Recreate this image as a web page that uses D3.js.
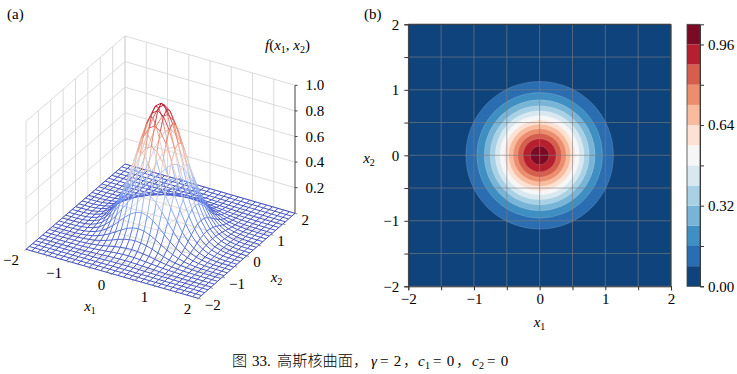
<!DOCTYPE html>
<html>
<head>
<meta charset="utf-8">
<script src="https://cdn.jsdelivr.net/npm/d3@7"></script>
<style>
  body { margin: 0; background: #fff; }
  text { font-family: "Liberation Serif", serif; font-size: 15px; fill: #000; }
  .cjk { font-family: "Noto Sans CJK SC", sans-serif; font-size: 15.2px; font-weight: 300; }
  .domain { stroke: #333; }
  .tick line { stroke: #333; }
</style>
</head>
<body>
<svg width="737" height="374"></svg>
<script>
// axis ticks
const xTicks = [-2, -1.5, -1, -0.5, 0, 0.5, 1, 1.5, 2];
const xLabels = [-2, -1, 0, 1, 2];
const zTicks = [0.2, 0.4, 0.6, 0.8, 1.0];
const wallZ = [0, 0.2, 0.4, 0.6, 0.8, 1.0];

// contour bands of (b): lower level, outer radius of the ring, colour
const levels = [0, 0.08, 0.16, 0.24, 0.32, 0.4, 0.48, 0.56, 0.64, 0.72, 0.8, 0.88, 0.96];
const ringRadius = [3, 1.124, 0.957, 0.845, 0.755, 0.677, 0.606, 0.538, 0.472, 0.405, 0.334, 0.253, 0.143];
const bandColors = ["#0f437c", "#2a6db0", "#3f8fc2", "#77b4d6", "#a9d1e5", "#d8e8f1", "#f6f6f6",
  "#fde2d3", "#f9bb9e", "#ec8e6e", "#d55e4c", "#b61f2e", "#7d0a24"];
const cbarTicks = [0, 0.16, 0.32, 0.48, 0.64, 0.8, 0.96];
const cbarLabels = [0, 0.32, 0.64, 0.96];

// surface heights for (a), one quadrant of the mesh (centre is top left), mirrored when drawn
const zQuadrant = [
  [1.000, .965, .867, .726, .566, .411, .278, .175, .103, .056, .029, .014, .006, .002, .001, 0],
  [.965, .931, .837, .701, .546, .397, .268, .169, .099, .054, .028, .014, .006, .002, .001, 0],
  [.867, .837, .752, .629, .491, .356, .241, .152, .089, .049, .025, .012, .005, .002, .001, 0],
  [.726, .701, .629, .527, .411, .298, .202, .127, .075, .041, .021, .010, .004, .001, .001, 0],
  [.566, .546, .491, .411, .320, .233, .157, .099, .058, .032, .016, .008, .003, .001, .001, 0],
  [.411, .397, .356, .298, .233, .169, .114, .072, .042, .023, .012, .006, .002, .001, 0, 0],
  [.278, .268, .241, .202, .157, .114, .077, .049, .029, .016, .008, .004, .002, .001, 0, 0],
  [.175, .169, .152, .127, .099, .072, .049, .031, .018, .010, .005, .002, .001, 0, 0, 0],
  [.103, .099, .089, .075, .058, .042, .029, .018, .011, .006, .003, .001, .001, 0, 0, 0],
  [.056, .054, .049, .041, .032, .023, .016, .010, .006, .003, .002, .001, 0, 0, 0, 0],
  [.029, .028, .025, .021, .016, .012, .008, .005, .003, .002, .001, 0, 0, 0, 0, 0],
  [.014, .014, .012, .010, .008, .006, .004, .002, .001, .001, 0, 0, 0, 0, 0, 0],
  [.006, .006, .005, .004, .003, .002, .002, .001, .001, 0, 0, 0, 0, 0, 0, 0],
  [.002, .002, .002, .001, .001, .001, .001, 0, 0, 0, 0, 0, 0, 0, 0, 0],
  [.001, .001, .001, .001, .001, 0, 0, 0, 0, 0, 0, 0, 0, 0, 0, 0],
  [0, 0, 0, 0, 0, 0, 0, 0, 0, 0, 0, 0, 0, 0, 0, 0]
];

const svg = d3.select("svg");

// ---- (a) 3d surface ----
// floor corners on screen, the 3d view is just these four edges plus a z scale
const frontX = d3.scaleLinear().domain([-2, 2]).range([26, 198.3]);
const frontY = d3.scaleLinear().domain([-2, 2]).range([249.3, 298.3]);
const rearX = d3.scaleLinear().domain([-2, 2]).range([125, 295]);
const rearY = d3.scaleLinear().domain([-2, 2]).range([164, 213.3]);
const depth = d3.scaleLinear().domain([-2, 2]).range([0, 1]);
const zScale = d3.scaleLinear().domain([0, 1]).range([0, -128]);
const coolwarm = d3.scaleLinear()
  .domain([0, 0.25, 0.5, 0.75, 1])
  .range(["#3b4cc0", "#7b9ff9", "#dddcdc", "#f49a7b", "#b40426"]);

function project(x1, x2, z) {
  const t = depth(x2);
  return [
    frontX(x1) + (rearX(x1) - frontX(x1)) * t,
    frontY(x1) + (rearY(x1) - frontY(x1)) * t + zScale(z)
  ];
}
const line3d = d3.line();

const panelA = svg.append("g");

function wall(points, color) {
  panelA.append("path")
    .attr("d", line3d(points.map(p => project(p[0], p[1], p[2]))))
    .attr("fill", "none")
    .attr("stroke", color)
    .attr("stroke-width", 0.8);
}
xTicks.forEach(t => {
  wall([[-2, t, 0], [-2, t, 1]], "#d2d2d2");
  wall([[t, 2, 0], [t, 2, 1]], "#d2d2d2");
  wall([[t, -2, 0], [t, 2, 0]], "#d2d2d2");
  wall([[-2, t, 0], [2, t, 0]], "#d2d2d2");
});
wallZ.forEach(z => {
  wall([[-2, -2, z], [-2, 2, z]], "#d2d2d2");
  wall([[-2, 2, z], [2, 2, z]], "#d2d2d2");
});

// mesh, one short path per cell edge so the colour follows the height
const meshIdx = d3.range(-15, 16);
const grid = k => k * 2 / 15;
const zAt = (i, j) => zQuadrant[Math.abs(i)][Math.abs(j)];
const segments = [];
meshIdx.forEach(i => {
  meshIdx.forEach(j => {
    if (j < 15) segments.push({a: [i, j], b: [i, j + 1]});
    if (i < 15) segments.push({a: [i, j], b: [i + 1, j]});
  });
});
segments.sort((s, r) => d3.ascending(s.a[0] - s.a[1], r.a[0] - r.a[1]));

panelA.append("g").selectAll("path")
  .data(segments)
  .join("path")
  .attr("d", s => line3d([
    project(grid(s.a[0]), grid(s.a[1]), zAt(s.a[0], s.a[1])),
    project(grid(s.b[0]), grid(s.b[1]), zAt(s.b[0], s.b[1]))
  ]))
  .attr("fill", "none")
  .attr("stroke", s => coolwarm((zAt(s.a[0], s.a[1]) + zAt(s.b[0], s.b[1])) / 2))
  .attr("stroke-width", 0.95);

// z axis at the right corner
panelA.append("path")
  .attr("d", line3d([project(2, 2, 0), project(2, 2, 1)]))
  .attr("stroke", "#555").attr("stroke-width", 1).attr("fill", "none");

zTicks.forEach(z => {
  const p = project(2, 2, z);
  panelA.append("path").attr("d", line3d([p, [p[0] + 2.5, p[1]]])).attr("stroke", "#444");
  panelA.append("text").attr("x", p[0] + 10.5).attr("y", p[1] + 5).text(z.toFixed(1));
});

// floor ticks
xTicks.forEach(t => {
  panelA.append("path").attr("d", line3d([project(t, -2, 0), project(t, -2.06, 0)])).attr("stroke", "#666").attr("stroke-width", 0.7);
  panelA.append("path").attr("d", line3d([project(2, t, 0), project(2.06, t, 0)])).attr("stroke", "#666").attr("stroke-width", 0.7);
});
const fmt = v => (v < 0 ? "\u2212" : "") + Math.abs(v);
xLabels.forEach(t => {
  const p = project(t, -2, 0);
  panelA.append("text").attr("x", p[0] - 7).attr("y", p[1] + 16).attr("text-anchor", "end").text(fmt(t));
  const q = project(2, t, 0);
  panelA.append("text").attr("x", q[0] + 6.5).attr("y", q[1] + 11.5).text(fmt(t));
});

function subLabel(x, y, sub) {
  const t = svg.append("text").attr("x", x).attr("y", y).attr("text-anchor", "middle");
  t.append("tspan").attr("font-style", "italic").text("x");
  t.append("tspan").attr("dy", 3).style("font-size", "10px").text(sub);
}
subLabel(90, 311, "1");
subLabel(276.5, 282, "2");

const fLabel = svg.append("text").attr("x", 265).attr("y", 50);
fLabel.append("tspan").attr("font-style", "italic").text("f");
fLabel.append("tspan").text("(");
fLabel.append("tspan").attr("font-style", "italic").text("x");
fLabel.append("tspan").attr("dy", 3).style("font-size", "10px").text("1");
fLabel.append("tspan").attr("dy", -3).text(", ");
fLabel.append("tspan").attr("font-style", "italic").text("x");
fLabel.append("tspan").attr("dy", 3).style("font-size", "10px").text("2");
fLabel.append("tspan").attr("dy", -3).text(")");

svg.append("text").attr("x", 7).attr("y", 19).text("(a)");

// ---- (b) filled contours ----
const xScale = d3.scaleLinear().domain([-2, 2]).range([408.3, 671]);
const yScale = d3.scaleLinear().domain([-2, 2]).range([286.3, 24.3]);
const rScale = d3.scaleLinear().domain([0, 4]).range([0, 262.7]);

svg.append("defs").append("clipPath").attr("id", "plotClip")
  .append("rect")
  .attr("x", xScale(-2)).attr("y", yScale(2))
  .attr("width", xScale(2) - xScale(-2)).attr("height", yScale(-2) - yScale(2));

svg.append("g").attr("clip-path", "url(#plotClip)")
  .selectAll("circle")
  .data(levels)
  .join("circle")
  .attr("cx", xScale(0))
  .attr("cy", yScale(0))
  .attr("r", (d, i) => rScale(ringRadius[i]))
  .attr("fill", (d, i) => bandColors[i])
  .attr("stroke", "#fff")
  .attr("stroke-opacity", (d, i) => i === 0 ? 0 : 0.3)
  .attr("stroke-width", 0.5);

// grid sits on top of the contours
xTicks.forEach(t => {
  svg.append("line").attr("x1", xScale(t)).attr("x2", xScale(t)).attr("y1", yScale(-2)).attr("y2", yScale(2))
    .attr("stroke", "#808080").attr("stroke-opacity", 0.75).attr("stroke-width", 0.8);
  svg.append("line").attr("x1", xScale(-2)).attr("x2", xScale(2)).attr("y1", yScale(t)).attr("y2", yScale(t))
    .attr("stroke", "#808080").attr("stroke-opacity", 0.75).attr("stroke-width", 0.8);
});

const tickText = v => xLabels.includes(v) ? fmt(v) : "";
const xAxis = d3.axisBottom(xScale).tickValues(xTicks).tickFormat(tickText).tickSize(4).tickPadding(3);
const yAxis = d3.axisLeft(yScale).tickValues(xTicks).tickFormat(tickText).tickSize(4).tickPadding(5);
const xg = svg.append("g").attr("transform", `translate(0,${yScale(-2)})`).call(xAxis);
const yg = svg.append("g").attr("transform", `translate(${xScale(-2)},0)`).call(yAxis);
[xg, yg].forEach(g => g.selectAll("text").style("font-family", "'Liberation Serif', serif").style("font-size", "15px").attr("fill", "#000"));

svg.append("path")
  .attr("d", line3d([[xScale(-2), yScale(2)], [xScale(2), yScale(2)], [xScale(2), yScale(-2)]]))
  .attr("fill", "none").attr("stroke", "#333");

subLabel(539.5, 327, "1");
subLabel(369, 163, "2");
svg.append("text").attr("x", 364).attr("y", 19).text("(b)");

// ---- colour bar ----
const cScale = d3.scaleLinear().domain([0, 1.04]).range([286.3, 24.3]);
svg.append("g").selectAll("rect")
  .data(levels)
  .join("rect")
  .attr("x", 687)
  .attr("width", 13)
  .attr("y", d => cScale(d + 0.08))
  .attr("height", d => cScale(d) - cScale(d + 0.08))
  .attr("fill", (d, i) => bandColors[i]);

const cAxis = d3.axisRight(cScale)
  .tickValues(cbarTicks)
  .tickFormat(v => cbarLabels.includes(v) ? v.toFixed(2) : "")
  .tickSize(4)
  .tickPadding(4);
const cg = svg.append("g").attr("transform", "translate(700,0)").call(cAxis);
cg.selectAll("text").style("font-family", "'Liberation Serif', serif").style("font-size", "15px").attr("fill", "#000");
svg.append("rect")
  .attr("x", 687).attr("y", cScale(1.04)).attr("width", 13).attr("height", cScale(0) - cScale(1.04))
  .attr("fill", "none").attr("stroke", "#444").attr("stroke-width", 0.8);

// ---- caption ----
function caption(x, str, italic, cjk) {
  const t = svg.append("text").attr("x", x).attr("y", 366).text(str);
  if (italic) t.attr("font-style", "italic");
  if (cjk) t.attr("class", "cjk");
  return t;
}
caption(232, "图", false, true);
caption(252, "33.", false, false);
caption(277, "高斯核曲面，", false, true);
caption(371, "γ", true, false);
caption(380, "= 2", false, false).style("word-spacing", "1.5px");
caption(403, "，", false, true);
caption(418, "c", true, false);
caption(425, "1", false, false).style("font-size", "10px").attr("y", 369);
caption(433, "= 0", false, false).style("word-spacing", "1.5px");
caption(456, "，", false, true);
caption(472, "c", true, false);
caption(479, "2", false, false).style("font-size", "10px").attr("y", 369);
caption(487, "= 0", false, false).style("word-spacing", "1.5px");
</script>
</body>
</html>
